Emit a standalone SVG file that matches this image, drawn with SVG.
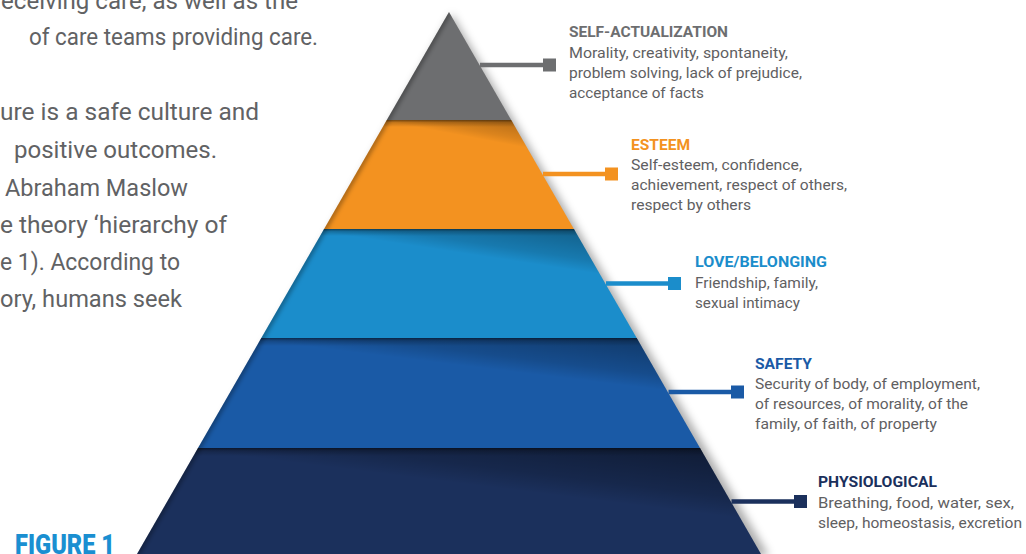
<svg xmlns="http://www.w3.org/2000/svg" width="1026" height="554" viewBox="0 0 1026 554">
  <defs>
    <style>
      .para { font-family: Roboto, "Liberation Sans", sans-serif; font-weight: 400; font-size: 23.5px; fill: #616264; }
      .head { font-family: Roboto, "Liberation Sans", sans-serif; font-weight: 700; font-size: 15.5px; }
      .body { font-family: Roboto, "Liberation Sans", sans-serif; font-weight: 400; font-size: 14.5px; fill: #5f6062; }
      .fig { font-family: Roboto, "Liberation Sans", sans-serif; font-weight: 900; font-size: 27px; fill: #1a8fd1; }
      .link { stroke-width: 4.5; fill: none; }
    </style>
    <!-- soft shadow thrown to the right of the pyramid -->
    <filter id="dropShadow" x="-10%" y="-10%" width="130%" height="130%">
      <feGaussianBlur stdDeviation="4.5"/>
    </filter>
    <!-- thin dark band under each tier boundary -->
    <linearGradient id="topBand" x1="0" y1="0" x2="0" y2="1">
      <stop offset="0" stop-color="#000" stop-opacity="0.5"/>
      <stop offset="0.35" stop-color="#000" stop-opacity="0.2"/>
      <stop offset="1" stop-color="#000" stop-opacity="0"/>
    </linearGradient>
    <!-- slanted shade wedges, fading to nothing along their lower edge -->
    <linearGradient id="shadeT2" gradientUnits="userSpaceOnUse" x1="512" y1="145.2" x2="516.6" y2="120.8">
      <stop offset="0" stop-color="#000" stop-opacity="0"/>
      <stop offset="0.3" stop-color="#000" stop-opacity="0.1"/>
      <stop offset="1" stop-color="#000" stop-opacity="0.26"/>
    </linearGradient>
    <linearGradient id="shadeT3" gradientUnits="userSpaceOnUse" x1="574" y1="270.2" x2="580.1" y2="229.9">
      <stop offset="0" stop-color="#000" stop-opacity="0"/>
      <stop offset="0.3" stop-color="#000" stop-opacity="0.14"/>
      <stop offset="1" stop-color="#000" stop-opacity="0.32"/>
    </linearGradient>
    <linearGradient id="shadeT4" gradientUnits="userSpaceOnUse" x1="637" y1="387" x2="642.9" y2="338.7">
      <stop offset="0" stop-color="#000" stop-opacity="0"/>
      <stop offset="0.3" stop-color="#000" stop-opacity="0.16"/>
      <stop offset="1" stop-color="#000" stop-opacity="0.36"/>
    </linearGradient>
    <linearGradient id="shadeT5" gradientUnits="userSpaceOnUse" x1="700" y1="513.4" x2="708" y2="449">
      <stop offset="0" stop-color="#000" stop-opacity="0"/>
      <stop offset="0.3" stop-color="#000" stop-opacity="0.18"/>
      <stop offset="1" stop-color="#000" stop-opacity="0.42"/>
    </linearGradient>
    <clipPath id="clipT2"><polygon points="386.8,120 511.2,120 573.9,229 324.1,229"/></clipPath>
    <clipPath id="clipT3"><polygon points="324.1,229 573.9,229 636.7,338 261.3,338"/></clipPath>
    <clipPath id="clipT4"><polygon points="261.3,338 636.7,338 700,448 198,448"/></clipPath>
    <clipPath id="clipT5"><polygon points="198,448 700,448 761,554 137,554"/></clipPath>
    <clipPath id="clipAll"><polygon points="449,12 761,554 137,554"/></clipPath>
    <filter id="rimBlur" x="-10%" y="-10%" width="120%" height="120%">
      <feGaussianBlur stdDeviation="2"/>
    </filter>
  </defs>

  <rect x="0" y="0" width="1026" height="554" fill="#ffffff"/>

  <!-- running article text beside the figure -->
  <g id="article-text">
    <text class="para" x="1" y="9" textLength="297" lengthAdjust="spacingAndGlyphs">eceiving care, as well as the</text>
    <text class="para" x="29" y="45" textLength="289" lengthAdjust="spacingAndGlyphs">of care teams providing care.</text>
    <text class="para" x="0" y="120" textLength="259" lengthAdjust="spacingAndGlyphs">ure is a safe culture and</text>
    <text class="para" x="14" y="158" textLength="203" lengthAdjust="spacingAndGlyphs">positive outcomes.</text>
    <text class="para" x="5" y="196" textLength="183" lengthAdjust="spacingAndGlyphs">Abraham Maslow</text>
    <text class="para" x="0" y="233" textLength="227" lengthAdjust="spacingAndGlyphs">e theory ‘hierarchy of</text>
    <text class="para" x="0" y="270" textLength="180" lengthAdjust="spacingAndGlyphs">e 1). According to</text>
    <text class="para" x="0" y="307" textLength="182" lengthAdjust="spacingAndGlyphs">ory, humans seek</text>
  </g>

  <text id="figure-title" class="fig" x="15" y="554" textLength="100" lengthAdjust="spacingAndGlyphs">FIGURE 1</text>

  <!-- pyramid shadow -->
  <polygon points="449,14 766,556 142,556" fill="#000" fill-opacity="0.32" filter="url(#dropShadow)" transform="translate(3,0)"/>

  <!-- tier 1: self-actualization -->
  <g id="tier-self-actualization">
    <polygon points="449,12 511.2,120 386.8,120" fill="#6d6e70"/>
    <text class="head" x="569" y="37" fill="#6d6e70" textLength="159" lengthAdjust="spacingAndGlyphs">SELF-ACTUALIZATION</text>
    <text class="body" x="569" y="58" textLength="219" lengthAdjust="spacingAndGlyphs">Morality, creativity, spontaneity,</text>
    <text class="body" x="569" y="78" textLength="233" lengthAdjust="spacingAndGlyphs">problem solving, lack of prejudice,</text>
    <text class="body" x="569" y="98" textLength="135" lengthAdjust="spacingAndGlyphs">acceptance of facts</text>
  </g>

  <!-- tier 2: esteem -->
  <g id="tier-esteem">
    <polygon points="386.8,120 511.2,120 573.9,229 324.1,229" fill="#f39220"/>
    <g clip-path="url(#clipT2)">
      <polygon points="380,120 590,120 590,160 387,121.5" fill="url(#shadeT2)"/>
      <rect x="320" y="120" width="260" height="7" fill="url(#topBand)"/>
    </g>
    <text class="head" x="631" y="150" fill="#f39220" textLength="59" lengthAdjust="spacingAndGlyphs">ESTEEM</text>
    <text class="body" x="631" y="169.5" textLength="171" lengthAdjust="spacingAndGlyphs">Self-esteem, confidence,</text>
    <text class="body" x="631" y="189.5" textLength="216" lengthAdjust="spacingAndGlyphs">achievement, respect of others,</text>
    <text class="body" x="631" y="209.5" textLength="120" lengthAdjust="spacingAndGlyphs">respect by others</text>
  </g>

  <!-- tier 3: love / belonging -->
  <g id="tier-love-belonging">
    <polygon points="324.1,229 573.9,229 636.7,338 261.3,338" fill="#1b8dcb"/>
    <g clip-path="url(#clipT3)">
      <polygon points="318,229 645,229 645,281 323,232" fill="url(#shadeT3)"/>
      <rect x="255" y="229" width="390" height="7" fill="url(#topBand)"/>
    </g>
    <text class="head" x="695" y="267" fill="#1b8dcb" textLength="132" lengthAdjust="spacingAndGlyphs">LOVE/BELONGING</text>
    <text class="body" x="695" y="287.5" textLength="123" lengthAdjust="spacingAndGlyphs">Friendship, family,</text>
    <text class="body" x="695" y="307.5" textLength="105" lengthAdjust="spacingAndGlyphs">sexual intimacy</text>
  </g>

  <!-- tier 4: safety -->
  <g id="tier-safety">
    <polygon points="261.3,338 636.7,338 700,448 198,448" fill="#1a5aa6"/>
    <g clip-path="url(#clipT4)">
      <polygon points="255,338 710,338 710,396 260,341" fill="url(#shadeT4)"/>
      <rect x="190" y="338" width="520" height="8" fill="url(#topBand)"/>
    </g>
    <text class="head" x="755" y="369" fill="#1a5aa6" textLength="57" lengthAdjust="spacingAndGlyphs">SAFETY</text>
    <text class="body" x="755" y="388.5" textLength="225" lengthAdjust="spacingAndGlyphs">Security of body, of employment,</text>
    <text class="body" x="755" y="408.5" textLength="213" lengthAdjust="spacingAndGlyphs">of resources, of morality, of the</text>
    <text class="body" x="755" y="428.5" textLength="182" lengthAdjust="spacingAndGlyphs">family, of faith, of property</text>
  </g>

  <!-- tier 5: physiological -->
  <g id="tier-physiological">
    <polygon points="198,448 700,448 761,554 137,554" fill="#1b305c"/>
    <g clip-path="url(#clipT5)">
      <polygon points="190,448 770,448 770,522 195,451" fill="url(#shadeT5)"/>
      <rect x="130" y="448" width="640" height="8" fill="url(#topBand)"/>
    </g>
    <text class="head" x="818" y="487" fill="#1b305c" textLength="119" lengthAdjust="spacingAndGlyphs">PHYSIOLOGICAL</text>
    <text class="body" x="818" y="507.5" textLength="196" lengthAdjust="spacingAndGlyphs">Breathing, food, water, sex,</text>
    <text class="body" x="818" y="527.5" textLength="204" lengthAdjust="spacingAndGlyphs">sleep, homeostasis, excretion</text>
  </g>

  <!-- darker rim along the left face -->
  <g clip-path="url(#clipAll)">
    <line x1="449" y1="12" x2="137" y2="554" stroke="#000" stroke-opacity="0.3" stroke-width="6" filter="url(#rimBlur)"/>
  </g>

  <!-- leader lines from each tier to its label -->
  <g id="connectors">
    <line class="link" x1="480" y1="65" x2="548" y2="65" stroke="#6d6e70"/>
    <rect x="543" y="58.5" width="13" height="13" fill="#6d6e70"/>
    <line class="link" x1="543" y1="174" x2="610" y2="174" stroke="#f39220"/>
    <rect x="605" y="167.5" width="13" height="13" fill="#f39220"/>
    <line class="link" x1="606" y1="283.5" x2="673" y2="283.5" stroke="#1b8dcb"/>
    <rect x="668" y="277" width="13" height="13" fill="#1b8dcb"/>
    <line class="link" x1="668.5" y1="392" x2="736" y2="392" stroke="#1a5aa6"/>
    <rect x="731" y="385.5" width="13" height="13" fill="#1a5aa6"/>
    <line class="link" x1="731.5" y1="501.5" x2="799" y2="501.5" stroke="#1b305c"/>
    <rect x="794" y="495" width="13" height="13" fill="#1b305c"/>
  </g>
</svg>
